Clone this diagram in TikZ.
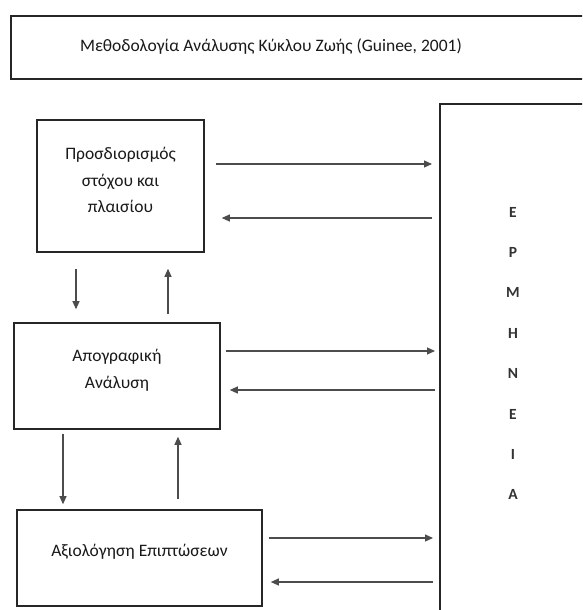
\documentclass[tikz,border=0pt]{standalone}
\usepackage{fontspec}
\setmainfont{Carlito}
\usetikzlibrary{arrows.meta}
\tikzset{
  box/.style={draw=black!85, line width=1.6pt, rectangle, inner sep=0pt},
  lbl/.style={align=center, font=\fontsize{17.5}{26.5}\selectfont, text=black!90},
  arr/.style={draw=black!70, line width=1.1pt, -{Triangle[length=8pt,width=7pt]}},
}
\begin{document}
\begin{tikzpicture}[x=1pt,y=1pt]
\useasboundingbox (0,0) rectangle (582,-610);
\clip (0,0) rectangle (582,-610);
\fill[white] (0,0) rectangle (582,-610);
% title
\node[box, anchor=north west, minimum width=620pt, minimum height=63pt] (title) at (10,-15) {};
\node[lbl] (titletext) at (271,-47) {Μεθοδολογία Ανάλυσης Κύκλου Ζωής (Guinee, 2001)};
% boxes
\node[box, minimum width=167pt, minimum height=132pt] (b1) at (120.5,-186) {};
\node[lbl] (b1t) at (120.5,-180) {Προσδιορισμός\\στόχου και\\πλαισίου};
\node[box, minimum width=206pt, minimum height=106pt] (b2) at (117,-376) {};
\node[lbl] (b2t) at (117,-370) {Απογραφική\\Ανάλυση};
\node[box, minimum width=245pt, minimum height=96pt] (b3) at (139.5,-558) {};
\node[lbl] (b3t) at (139.5,-552) {Αξιολόγηση Επιπτώσεων};
% interpretation box
\node[box, anchor=north west, minimum width=300pt, minimum height=620pt] (er) at (439,-103) {};
\node[lbl, font=\fontsize{15.5}{40.4}\selectfont\bfseries, text=black!80] (ert) at (513,-353.5) {Ε\\Ρ\\Μ\\Η\\Ν\\Ε\\Ι\\Α};
% horizontal arrows
\draw[arr] ([shift={(11,22)}]b1.east) -- ([shift={(-7,22)}]b1.east -| er.west);
\draw[arr] ([shift={(-7,-32)}]b1.east -| er.west) -- ([shift={(17,-32)}]b1.east);
\draw[arr] ([shift={(5,25)}]b2.east) -- ([shift={(-4,25)}]b2.east -| er.west);
\draw[arr] ([shift={(-4,-14)}]b2.east -| er.west) -- ([shift={(9,-14)}]b2.east);
\draw[arr] ([shift={(6,20)}]b3.east) -- ([shift={(-6,20)}]b3.east -| er.west);
\draw[arr] ([shift={(-6,-24)}]b3.east -| er.west) -- ([shift={(8,-24)}]b3.east);
% vertical arrows
\draw[arr] ([shift={(-44.5,-16)}]b1.south) -- ([shift={(-41,13)}]b2.north);
\draw[arr] ([shift={(51,8)}]b2.north) -- ([shift={(47.5,-16)}]b1.south);
\draw[arr] ([shift={(-54,-4)}]b2.south) -- ([shift={(-76.5,5)}]b3.north);
\draw[arr] ([shift={(38.5,10)}]b3.north) -- ([shift={(61,-7)}]b2.south);
\end{tikzpicture}
\end{document}
